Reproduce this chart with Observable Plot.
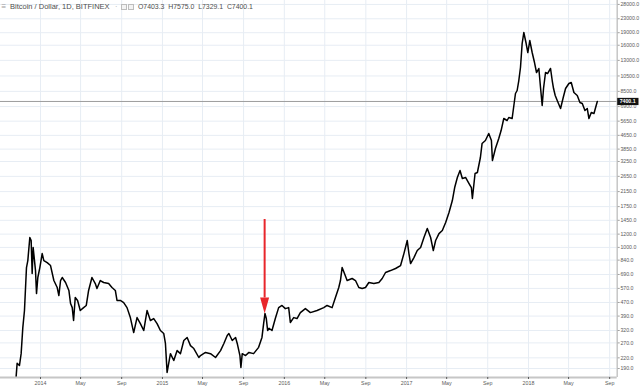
<!DOCTYPE html>
<html><head><meta charset="utf-8">
<script src="https://cdn.jsdelivr.net/npm/d3@7"></script>
<script src="https://cdn.jsdelivr.net/npm/@observablehq/plot@0.6"></script>
<style>
body{margin:0;background:#fff;}
#wrap{position:relative;width:640px;height:388px;overflow:hidden;font-family:"Liberation Sans",Arial,sans-serif;}
#chart svg{display:block;}
.h{position:absolute;top:2px;line-height:10px;white-space:nowrap;color:#4e4e4e;}
.sq{position:absolute;top:4px;width:4px;height:4px;border:1px solid #bdbdbd;background:#f3f3f3;}
</style></head><body>
<div id="wrap"><div id="chart"></div></div>
<script>
const dates = [
"2013-10-20","2013-10-23","2013-10-30","2013-11-04","2013-11-09","2013-11-14","2013-11-20","2013-11-24","2013-11-30","2013-12-04",
"2013-12-07","2013-12-10","2013-12-17","2013-12-20","2013-12-24","2013-12-30","2014-01-06","2014-01-11","2014-01-21","2014-01-31",
"2014-02-10","2014-02-20","2014-02-25","2014-03-02","2014-03-07","2014-03-17","2014-03-27","2014-04-01","2014-04-06","2014-04-10",
"2014-04-15","2014-04-22","2014-04-30","2014-05-10","2014-05-18","2014-05-25","2014-06-04","2014-06-14","2014-06-19","2014-06-29",
"2014-07-09","2014-07-24","2014-08-03","2014-08-13","2014-08-18","2014-08-28","2014-09-07","2014-09-17","2014-09-27","2014-10-07",
"2014-10-17","2014-10-27","2014-11-06","2014-11-16","2014-11-26","2014-12-06","2014-12-16","2014-12-26","2015-01-05","2015-01-10",
"2015-01-15","2015-01-25","2015-02-04","2015-02-14","2015-02-24","2015-03-06","2015-03-16","2015-03-26","2015-04-05","2015-04-20",
"2015-04-25","2015-05-10","2015-05-25","2015-06-09","2015-06-24","2015-07-04","2015-07-14","2015-07-19","2015-07-29","2015-08-08",
"2015-08-13","2015-08-21","2015-08-24","2015-08-28","2015-09-07","2015-09-17","2015-10-01","2015-10-16","2015-10-26","2015-10-31",
"2015-11-04","2015-11-08","2015-11-12","2015-11-16","2015-11-25","2015-12-05","2015-12-15","2015-12-25","2016-01-04","2016-01-14",
"2016-01-19","2016-01-29","2016-02-08","2016-02-18","2016-03-04","2016-03-19","2016-04-08","2016-04-28","2016-05-08","2016-05-23",
"2016-06-02","2016-06-12","2016-06-17","2016-06-22","2016-06-29","2016-07-07","2016-07-22","2016-08-01","2016-08-11","2016-08-21",
"2016-08-31","2016-09-10","2016-09-25","2016-10-10","2016-10-20","2016-10-30","2016-11-14","2016-11-29","2016-12-14","2016-12-24",
"2017-01-03","2017-01-08","2017-01-13","2017-01-23","2017-02-02","2017-02-12","2017-02-22","2017-03-04","2017-03-14","2017-03-22",
"2017-03-29","2017-04-08","2017-04-18","2017-04-28","2017-05-08","2017-05-18","2017-05-25","2017-06-02","2017-06-10","2017-06-17",
"2017-06-27","2017-07-07","2017-07-14","2017-07-17","2017-07-25","2017-08-01","2017-08-10","2017-08-15","2017-08-25","2017-09-04",
"2017-09-12","2017-09-15","2017-09-24","2017-10-04","2017-10-11","2017-10-19","2017-10-29","2017-11-03","2017-11-13","2017-11-23",
"2017-11-28","2017-12-03","2017-12-08","2017-12-13","2017-12-18","2017-12-25","2017-12-30","2018-01-05","2018-01-12","2018-01-19",
"2018-01-25","2018-02-01","2018-02-06","2018-02-11","2018-02-15","2018-02-21","2018-02-27","2018-03-08","2018-03-13","2018-03-17",
"2018-03-22","2018-03-28","2018-04-07","2018-04-15","2018-04-22","2018-05-02","2018-05-09","2018-05-17","2018-05-27","2018-06-04",
"2018-06-11","2018-06-19","2018-06-26","2018-07-01","2018-07-08","2018-07-16","2018-07-21","2018-07-26"];
const closes = [
170,204,198,233,333,421,759,835,1146,1099,
699,999,728,531,662,759,919,835,812,780,
635,577,517,635,662,618,554,463,438,367,
503,483,421,438,451,554,662,609,569,635,
618,609,577,554,483,483,469,438,382,311,
382,352,320,421,367,377,352,320,307,268,
180,233,212,243,233,279,291,260,250,221,
227,237,233,221,243,268,299,307,279,291,
268,227,193,233,227,237,233,254,291,352,
404,377,320,330,320,377,438,451,432,438,
357,382,377,409,432,409,421,438,451,438,
503,577,635,759,699,635,653,635,577,569,
577,618,609,618,653,709,728,749,780,919,
1099,919,801,870,958,999,1146,1296,1146,958,
1099,1209,1260,1407,1614,1902,2273,2607,2871,2572,
2607,2401,2273,1955,2755,2793,3431,4156,4332,4767,
4332,3291,3882,4453,4967,5858,5700,5939,5858,8254,
8601,9865,11790,16382,19054,16382,14480,17066,14480,12622,
11006,11629,8961,7000,8839,11006,10857,11629,9865,8839,
8031,7496,6718,7814,8839,9469,9599,8368,8031,7294,
7194,6537,6718,5858,6360,6274,6810,7400.1];

const xTickDates = ["2014-01-01","2014-05-01","2014-09-01","2015-01-01","2015-05-01","2015-09-01","2016-01-01","2016-05-01","2016-09-01","2017-01-01","2017-05-01","2017-09-01","2018-01-01","2018-05-01","2018-09-01"];
const xTickLabels = ["2014","May","Sep","2015","May","Sep","2016","May","Sep","2017","May","Sep","2018","May","Sep"];
const yTicks = [190,220,270,320,390,470,570,690,840,1000,1200,1450,1750,2150,2650,3250,3850,4650,5650,6900,8500,10500,13000,16000,19000,23000,28000];
const xDomain = ["2013-09-03T05:00:00Z","2018-09-23T14:00:00Z"];
const yDomain = [168, 29550];
const titleText = "Bitcoin / Dollar, 1D, BITFINEX";
const ohlcLabels = ["O","H","L","C"];
const ohlcValues = [7403.3, 7575.0, 7329.1, 7400.1];
const lastClose = 7400.1;
const arrowDate = "2015-11-03";
const arrowFrom = 1466, arrowBase = 500, arrowTo = 404;

const data = dates.map((d, i) => ({date: new Date(d), close: closes[i]}));
const xTicks = xTickDates.map(d => new Date(d));
const xEnd = new Date(xDomain[1]);
const labelByTime = new Map(xTicks.map((d, i) => [+d, xTickLabels[i]]));
const arrow = [{date: new Date(arrowDate), from: arrowFrom, base: arrowBase, to: arrowTo}];

const headDown = {draw(ctx) { ctx.moveTo(0, 0); ctx.lineTo(-4.5, -16); ctx.lineTo(4.5, -16); ctx.closePath(); }};
const priceBox = {draw(ctx) { ctx.moveTo(0, -3.6); ctx.lineTo(21.3, -3.6); ctx.lineTo(21.3, 3.6); ctx.lineTo(0, 3.6); ctx.closePath(); }};
const tickRight = {draw(ctx) { ctx.moveTo(0.5, 0); ctx.lineTo(2.5, 0); }};

const grid = "#e7edf4";
const chart = Plot.plot({
  width: 640, height: 388,
  marginLeft: 0, marginRight: 23.3, marginTop: 0, marginBottom: 11,
  style: {fontFamily: "Liberation Sans, Arial, sans-serif", fontSize: "5.3px", color: "#5a5a5a", background: "#fff", overflow: "visible"},
  x: {type: "utc", domain: xDomain.map(d => new Date(d))},
  y: {type: "log", domain: yDomain, axis: null},
  marks: [
    Plot.gridX({ticks: xTicks, stroke: grid, strokeOpacity: 1}),
    Plot.gridY({ticks: yTicks, stroke: grid, strokeOpacity: 1}),
    Plot.ruleY([lastClose], {stroke: "#9c9c9c", strokeWidth: 1}),
    Plot.line(data, {x: "date", y: "close", stroke: "#000", strokeWidth: 1.5, strokeLinejoin: "round"}),
    Plot.ruleX(arrow, {x: "date", y1: "from", y2: "base", stroke: "#e8262b", strokeWidth: 2}),
    Plot.dot(arrow, {x: "date", y: "to", symbol: headDown, fill: "#e8262b", stroke: "none"}),
    Plot.ruleY([yDomain[0]], {stroke: "#c6c6c6", strokeWidth: 2}),
    Plot.ruleX([xEnd], {stroke: "#c6c6c6", strokeWidth: 1.5}),
    Plot.axisX({ticks: xTicks, tickSize: 2, tickPadding: 1.5, tickFormat: d => labelByTime.get(+d), fontSize: 5.3}),
    Plot.dot(yTicks, {x: () => xEnd, y: d => d, symbol: tickRight, stroke: "#8a8a8a", strokeWidth: 0.8, fill: "none"}),
    Plot.text(yTicks, {x: () => xEnd, y: d => d, text: d => d.toFixed(1), textAnchor: "start", dx: 3.2, fill: "#5a5a5a", fontSize: 5.2}),
    Plot.dot([lastClose], {x: () => xEnd, y: d => d, symbol: priceBox, fill: "#131313", stroke: "none"}),
    Plot.text([lastClose], {x: () => xEnd, y: d => d, text: d => d.toFixed(1), fill: "#fff", fontWeight: "bold", textAnchor: "start", dx: 2.5, fontSize: 5.2})
  ]
});
document.getElementById("chart").appendChild(chart);

const wrap = document.getElementById("wrap");
function addSpan(cls, left, html, size) {
  const s = document.createElement("span");
  s.className = cls; s.style.left = left + "px"; if (size) s.style.fontSize = size + "px";
  s.innerHTML = html; wrap.appendChild(s); return s;
}
addSpan("h", 1.5, "&#8801;", 8).style.color = "#9a9a9a";
addSpan("h", 10, titleText, 7.5);
addSpan("h", 115, "&#183;", 7.5).style.color = "#aaa";
addSpan("sq", 121, "");
addSpan("sq", 128, "");
addSpan("h", 138, ohlcLabels.map((k, i) => k + ohlcValues[i].toFixed(1)).join("&nbsp;&nbsp;"), 6.9);
</script>
</body></html>
